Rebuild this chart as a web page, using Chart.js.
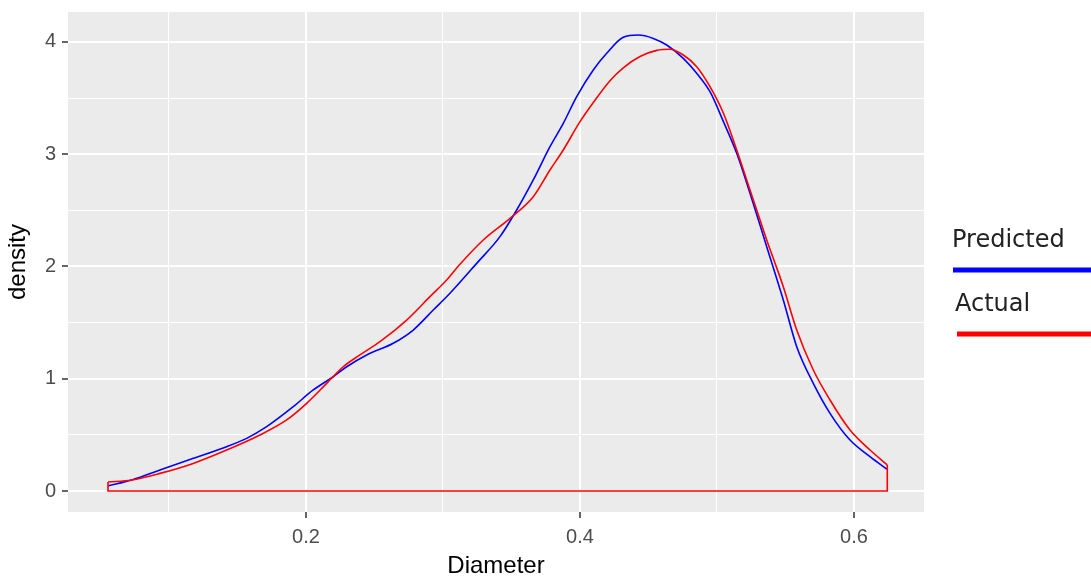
<!DOCTYPE html>
<html>
<head>
<meta charset="utf-8">
<script src="https://cdn.jsdelivr.net/npm/chart.js@4.4.1/dist/chart.umd.min.js"></script>
<style>
  html, body { margin: 0; padding: 0; background: #fff; }
</style>
</head>
<body>
<canvas id="myChart_density" width="1091" height="576"></canvas>
<script>
// du lieu doc tu hinh
var predDiameter = [0.0555, 0.0728, 0.0934, 0.1177, 0.1421, 0.1567, 0.1713, 0.1907, 0.2053, 0.2199, 0.2297, 0.2443, 0.2637, 0.2783, 0.2929, 0.3051, 0.3246, 0.3416, 0.3538, 0.3659, 0.3781, 0.3878, 0.3976, 0.4097, 0.4195, 0.4316, 0.4426, 0.4535, 0.4633, 0.4754, 0.4852, 0.4949, 0.5047, 0.5144, 0.5241, 0.5363, 0.5484, 0.5582, 0.5703, 0.5825, 0.5971, 0.6117, 0.6241];
var predDensity = [0.045, 0.098, 0.187, 0.291, 0.395, 0.469, 0.573, 0.751, 0.900, 1.018, 1.107, 1.212, 1.316, 1.434, 1.612, 1.761, 2.028, 2.266, 2.503, 2.771, 3.067, 3.275, 3.513, 3.751, 3.899, 4.042, 4.062, 4.032, 3.973, 3.854, 3.721, 3.557, 3.290, 3.008, 2.652, 2.176, 1.702, 1.286, 0.959, 0.692, 0.454, 0.306, 0.193];

var actDiameter = [0.0555, 0.0728, 0.0934, 0.1177, 0.1421, 0.1664, 0.1859, 0.2005, 0.2151, 0.2272, 0.2394, 0.2540, 0.2735, 0.2905, 0.3027, 0.3124, 0.3294, 0.3489, 0.3659, 0.3781, 0.3878, 0.4000, 0.4097, 0.4219, 0.4316, 0.4438, 0.4560, 0.4657, 0.4754, 0.4852, 0.4949, 0.5047, 0.5144, 0.5241, 0.5363, 0.5484, 0.5582, 0.5703, 0.5825, 0.5971, 0.6117, 0.6243];
var actDensity = [0.080, 0.098, 0.157, 0.246, 0.365, 0.499, 0.633, 0.781, 0.959, 1.107, 1.212, 1.330, 1.523, 1.731, 1.880, 2.020, 2.236, 2.429, 2.622, 2.860, 3.038, 3.290, 3.460, 3.655, 3.770, 3.870, 3.925, 3.935, 3.884, 3.780, 3.602, 3.365, 3.038, 2.682, 2.236, 1.820, 1.434, 1.078, 0.811, 0.543, 0.365, 0.232];

var xMajorTicks = [0.2, 0.4, 0.6];
var xMinorTicks = [0.1, 0.3, 0.5];
var yMajorTicks = [0, 1, 2, 3, 4];
var yMinorTicks = [0.5, 1.5, 2.5, 3.5];

var seriesNames = ['Predicted', 'Actual'];
var seriesColors = ['#0000ff', '#ff0000'];

function toPoints(xs, ys) {
    return xs.map(function(x, i) { return {x: x, y: ys[i]}; });
}
// khung duoi duong cong: canh trai, day, canh phai
function outline(xs, ys) {
    var n = xs.length - 1;
    return [{x: xs[0], y: ys[0]}, {x: xs[0], y: 0}, {x: xs[n], y: 0}, {x: xs[n], y: ys[n]}];
}
function tickList(major, minor) {
    return major.concat(minor).sort(function(a, b) { return a - b; })
        .map(function(v) { return {value: v, major: major.indexOf(v) >= 0}; });
}
function noPad(scale) {
    scale.paddingTop = 0; scale.paddingBottom = 0;
    scale.paddingLeft = 0; scale.paddingRight = 0;
}

// nen xam cua vung ve
var panelBg = {
    id: 'panelBg',
    beforeDraw: function(chart) {
        var a = chart.chartArea, c = chart.ctx;
        c.save();
        c.fillStyle = '#ebebeb';
        c.fillRect(a.left, a.top, a.right - a.left, a.bottom - a.top);
        c.restore();
    }
};

// chu thich ben phai
var sideLegend = {
    id: 'sideLegend',
    afterDraw: function(chart) {
        var c = chart.ctx;
        var x0 = 952, y0 = 241, gap = 64;
        c.save();
        c.font = '24px "DejaVu Sans"';
        c.textBaseline = 'middle';
        c.textAlign = 'left';
        seriesNames.forEach(function(name, i) {
            var y = y0 + i * gap;
            c.fillStyle = '#222';
            c.fillText(name, x0 + i * 3, y);
            c.strokeStyle = seriesColors[i];
            c.lineWidth = 5;
            c.beginPath();
            c.moveTo(x0 + 1 + i * 4, y + 29);
            c.lineTo(1091, y + 29);
            c.stroke();
        });
        c.restore();
    }
};

var ctx = document.getElementById('myChart_density');
var myChart = new Chart(ctx, {
    type: 'line',
    data: {
        datasets: [{
            label: seriesNames[1] + ' outline',
            data: outline(actDiameter, actDensity),
            borderColor: seriesColors[1],
            borderWidth: 1.6,
            pointRadius: 0,
            tension: 0,
            fill: false
        }, {
            label: seriesNames[1],
            data: toPoints(actDiameter, actDensity),
            borderColor: seriesColors[1],
            borderWidth: 1.6,
            pointRadius: 0,
            cubicInterpolationMode: 'monotone',
            fill: false
        }, {
            label: seriesNames[0],
            data: toPoints(predDiameter, predDensity),
            borderColor: seriesColors[0],
            borderWidth: 1.6,
            pointRadius: 0,
            cubicInterpolationMode: 'monotone',
            fill: false
        }]
    },
    options: {
        responsive: false,
        animation: false,
        devicePixelRatio: 1,
        layout: { padding: { left: 0, right: 167, top: 12, bottom: 0 } },
        plugins: {
            legend: { display: false },
            tooltip: { enabled: false }
        },
        scales: {
            x: {
                type: 'linear',
                min: 0.0263,
                max: 0.6511,
                afterBuildTicks: function(scale) { scale.ticks = tickList(xMajorTicks, xMinorTicks); },
                afterFit: function(scale) { scale.height = 64; noPad(scale); },
                border: { display: false },
                grid: {
                    color: '#ffffff',
                    lineWidth: function(c) { return c.tick && c.tick.major ? 2 : 1; },
                    tickColor: function(c) { return c.tick && c.tick.major ? '#333333' : 'rgba(0,0,0,0)'; },
                    tickWidth: 1.5,
                    tickLength: 6
                },
                ticks: {
                    autoSkip: false,
                    maxRotation: 0,
                    padding: 7,
                    color: '#4d4d4d',
                    font: { family: 'Liberation Sans', size: 20 },
                    callback: function(v) { return xMajorTicks.indexOf(v) >= 0 ? v.toFixed(1) : ''; }
                },
                title: {
                    display: true,
                    text: 'Diameter',
                    color: '#000000',
                    font: { family: 'Liberation Sans', size: 24 },
                    padding: { top: 0, bottom: -5 }
                }
            },
            y: {
                type: 'linear',
                min: -0.187,
                max: 4.267,
                afterBuildTicks: function(scale) { scale.ticks = tickList(yMajorTicks, yMinorTicks); },
                afterFit: function(scale) { scale.width = 68; noPad(scale); },
                border: { display: false },
                grid: {
                    color: '#ffffff',
                    lineWidth: function(c) { return c.tick && c.tick.major ? 2 : 1; },
                    tickColor: function(c) { return c.tick && c.tick.major ? '#333333' : 'rgba(0,0,0,0)'; },
                    tickWidth: 1.5,
                    tickLength: 6
                },
                ticks: {
                    autoSkip: false,
                    padding: 6,
                    color: '#4d4d4d',
                    font: { family: 'Liberation Sans', size: 20 },
                    callback: function(v) { return yMajorTicks.indexOf(v) >= 0 ? String(v) : ''; }
                },
                title: {
                    display: true,
                    text: 'density',
                    color: '#000000',
                    font: { family: 'Liberation Sans', size: 24 },
                    padding: { top: 4, bottom: 0 }
                }
            }
        }
    },
    plugins: [panelBg, sideLegend]
});
</script>
</body>
</html>
